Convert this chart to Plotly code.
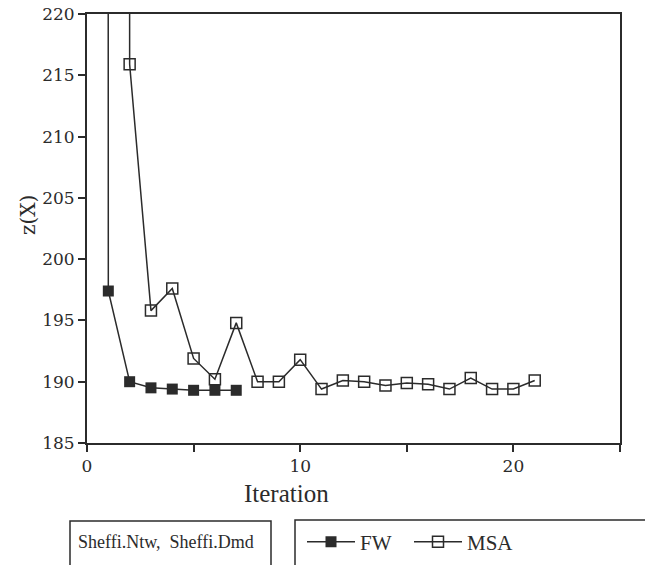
import plotly.graph_objects as go

# Data
fw_iter = [0, 1, 2, 3, 4, 5, 6, 7]
fw_z = [5000, 197.4, 190.0, 189.5, 189.4, 189.3, 189.3, 189.3]

msa_iter = [1, 2, 3, 4, 5, 6, 7, 8, 9, 10, 11, 12, 13, 14, 15, 16, 17, 18, 19, 20, 21]
msa_z = [5000, 215.9, 195.8, 197.6, 191.9, 190.2, 194.8, 190.0, 190.0, 191.8,
         189.4, 190.1, 190.0, 189.7, 189.9, 189.8, 189.4, 190.3, 189.4, 189.4, 190.1]

x_tickvals = [0, 5, 10, 15, 20, 25]
x_ticktext = ["0", "", "10", "", "20", ""]
y_tickvals = [185, 190, 195, 200, 205, 210, 215, 220]

INK = "#2b2b2b"
SERIF = "DejaVu Serif"

fig = go.Figure()
fig.add_trace(go.Scatter(
    x=fw_iter, y=fw_z, mode="lines+markers", name="FW",
    line=dict(color=INK, width=1.5),
    marker=dict(symbol="square", size=11, color=INK),
))
fig.add_trace(go.Scatter(
    x=msa_iter, y=msa_z, mode="lines+markers", name="MSA",
    line=dict(color=INK, width=1.5),
    marker=dict(symbol="square-open", size=11, color=INK, line=dict(width=1.5)),
))

L, R, T, B = 87, 25, 14, 122
W, H = 645, 565
pw, ph = W - L - R, H - T - B

def px(x):
    return (x - L) / pw

def py(y):
    return (H - B - y) / ph

fig.update_layout(
    width=W, height=H,
    margin=dict(l=L, r=R, t=T, b=B, autoexpand=False),
    plot_bgcolor="white", paper_bgcolor="white",
    showlegend=True,
    legend=dict(orientation="h", x=px(302), y=py(542), xanchor="left", yanchor="middle",
                font=dict(family="Liberation Serif", size=21, color=INK),
                bgcolor="rgba(0,0,0,0)", itemwidth=48,
                entrywidth=44, entrywidthmode="pixels"),
    font=dict(family=SERIF, color=INK),
)
fig.update_xaxes(
    range=[0, 25], tickvals=x_tickvals, ticktext=x_ticktext,
    ticks="outside", ticklen=7, tickwidth=2, tickcolor=INK,
    showline=True, linewidth=2, linecolor=INK, mirror=True,
    showgrid=False, zeroline=False,
    tickfont=dict(family=SERIF, size=17, color=INK),
)
fig.update_yaxes(
    range=[185, 220], tickvals=y_tickvals,
    ticks="outside", ticklen=7, tickwidth=2, tickcolor=INK,
    showline=True, linewidth=2, linecolor=INK, mirror=True,
    showgrid=False, zeroline=False,
    tickfont=dict(family=SERIF, size=17, color=INK),
)

fig.add_annotation(text="Iteration", x=px(286), y=py(493), xref="paper", yref="paper",
                   xanchor="center", yanchor="middle",
                   showarrow=False, font=dict(family="Liberation Serif", size=25, color=INK))
fig.add_annotation(text="z(X)", x=px(28), y=py(215), xref="paper", yref="paper",
                   xanchor="center", yanchor="middle",
                   textangle=-90, showarrow=False,
                   font=dict(family=SERIF, size=20, color=INK))
fig.add_annotation(text="Sheffi.Ntw,  Sheffi.Dmd", x=px(166), y=py(542), xref="paper", yref="paper",
                   xanchor="center", yanchor="middle",
                   showarrow=False, font=dict(family="Liberation Serif", size=18, color=INK))

fig.add_shape(type="rect", xref="paper", yref="paper",
              x0=px(70), x1=px(271), y0=py(575), y1=py(521),
              line=dict(color=INK, width=1.5))
fig.add_shape(type="rect", xref="paper", yref="paper",
              x0=px(295), x1=px(660), y0=py(575), y1=py(520),
              line=dict(color=INK, width=1.5))

fig.write_html("out.html")
